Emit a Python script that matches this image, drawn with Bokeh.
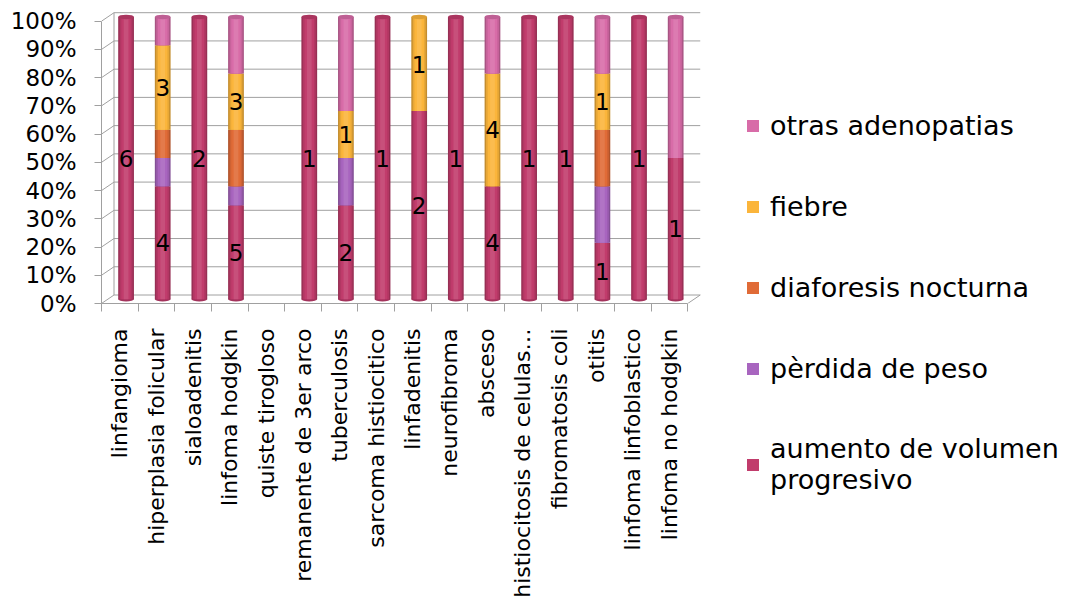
from math import pi

from bokeh.core.properties import value
from bokeh.embed import file_html
from bokeh.layouts import row
from bokeh.models import ColumnDataSource, FixedTicker, Legend, LegendItem, Range1d
from bokeh.plotting import figure
from bokeh.resources import INLINE

# ---- data -------------------------------------------------------------
categories = [
    "linfangioma", "hiperplasia folicular", "sialoadenitis", "linfoma hodgkin",
    "quiste tirogloso", "remanente de 3er arco", "tuberculosis",
    "sarcoma histiocitico", "linfadenitis", "neurofibroma", "absceso",
    "histiocitosis de celulas…", "fibromatosis coli", "otitis",
    "linfoma linfoblastico", "linfoma no hodgkin",
]
aumento    = [6, 4, 2, 5, 0, 1, 2, 1, 2, 1, 4, 1, 1, 1, 1, 1]
perdida    = [0, 1, 0, 1, 0, 0, 1, 0, 0, 0, 0, 0, 0, 1, 0, 0]
diaforesis = [0, 1, 0, 3, 0, 0, 0, 0, 0, 0, 0, 0, 0, 1, 0, 0]
fiebre     = [0, 3, 0, 3, 0, 0, 1, 0, 1, 0, 4, 0, 0, 1, 0, 0]
otras      = [0, 1, 0, 3, 0, 0, 2, 0, 0, 0, 2, 0, 0, 1, 0, 1]

series_names = [
    "aumento de volumen\nprogresivo", "pèrdida de peso",
    "diaforesis nocturna", "fiebre", "otras adenopatias",
]
series_values = [aumento, perdida, diaforesis, fiebre, otras]
series_colors = ["#C13C6C", "#A865BF", "#E06B37", "#FBB53B", "#D86CA8"]
labelled_series = [0, 3]  # counts are printed for these series

y_ticks = [0, 10, 20, 30, 40, 50, 60, 70, 80, 90, 100]

# ---- geometry of the pseudo-3D box -------------------------------------
PX_PER_PCT = 2.823          # vertical pixels per percent
PX_PER_CAT = 36.64          # horizontal pixels per category
DX = 12.5 / PX_PER_CAT      # depth offset, x (category units)
DY = 8.5 / PX_PER_PCT       # depth offset, y (percent units)
BAR_W = 0.43
FONT = "DejaVu Sans"
GRID = "#A0A0A0"


def mix(hex_color, other, t):
    a = [int(hex_color[i:i + 2], 16) for i in (1, 3, 5)]
    b = [int(other[i:i + 2], 16) for i in (1, 3, 5)]
    c = [round(x + (y - x) * t) for x, y in zip(a, b)]
    return "#%02X%02X%02X" % tuple(c)


n = len(categories)
totals = [sum(s[i] for s in series_values) for i in range(n)]

p = figure(
    width=720, height=610, output_backend="svg", toolbar_location=None,
    x_range=Range1d(-0.5, -0.5 + 601 / PX_PER_CAT),
    y_range=Range1d(0, 293 / PX_PER_PCT),
    min_border_left=101, min_border_right=18,
    min_border_top=10, min_border_bottom=307,
)
p.frame_align = False
p.outline_line_color = None
p.xgrid.visible = False
p.ygrid.visible = False
p.background_fill_color = "white"
p.border_fill_color = "white"

# ---- back wall, left wall and floor -------------------------------------
x_left, x_right = -0.5, n - 0.5
p.segment(x0=[x_left + DX] * len(y_ticks), x1=[x_right + DX] * len(y_ticks),
          y0=[t + DY for t in y_ticks], y1=[t + DY for t in y_ticks],
          line_color=GRID, line_width=1)
p.segment(x0=[x_left] * len(y_ticks), x1=[x_left + DX] * len(y_ticks),
          y0=y_ticks, y1=[t + DY for t in y_ticks],
          line_color=GRID, line_width=1)
p.segment(x0=[x_left + DX], x1=[x_left + DX], y0=[DY], y1=[100 + DY],
          line_color=GRID, line_width=1)
p.segment(x0=[x_right], x1=[x_right + DX], y0=[0], y1=[DY],
          line_color=GRID, line_width=1)

# ---- cylinders ----------------------------------------------------------
centers = [i + DX / 2 for i in range(n)]
off = DY / 2
cap_h = 4.5 / PX_PER_PCT

# bottom caps
bx, bc = [], []
for i in range(n):
    if totals[i] > 0:
        first = next(k for k in range(len(series_values)) if series_values[k][i] > 0)
        bx.append(centers[i])
        bc.append(mix(series_colors[first], "#000000", 0.15))
p.ellipse(x=bx, y=[off] * len(bx), width=BAR_W, height=cap_h,
          fill_color=bc, line_color=None)

cum = [0.0] * n
label_x, label_y, label_t = [], [], []
for k, (vals, col) in enumerate(zip(series_values, series_colors)):
    xs, bottoms, tops = [], [], []
    for i in range(n):
        if totals[i] == 0 or vals[i] == 0:
            continue
        pct = vals[i] / totals[i] * 100
        xs.append(centers[i])
        bottoms.append(cum[i] + off)
        tops.append(cum[i] + pct + off)
        if k in labelled_series:
            label_x.append(centers[i])
            label_y.append(cum[i] + pct / 2 + off)
            label_t.append(str(vals[i]))
        cum[i] += pct
    src = ColumnDataSource(dict(x=xs, bottom=bottoms, top=tops))
    # shaded bands give each stacked segment a cylindrical look
    p.vbar(x="x", bottom="bottom", top="top", width=BAR_W, source=src,
           fill_color=mix(col, "#000000", 0.22), line_color=None)
    p.vbar(x="x", bottom="bottom", top="top", width=BAR_W * 0.82,
           source=src, fill_color=mix(col, "#000000", 0.08), line_color=None)
    p.vbar(x="x", bottom="bottom", top="top", width=BAR_W * 0.6,
           source=src, fill_color=col, line_color=None)
    p.vbar(x="x", bottom="bottom", top="top", width=BAR_W * 0.3, source=src,
           fill_color=mix(col, "#FFFFFF", 0.1), line_color=None)

# top caps
tx, ty, tc = [], [], []
for i in range(n):
    if totals[i] > 0:
        last = max(k for k in range(len(series_values)) if series_values[k][i] > 0)
        tx.append(centers[i])
        ty.append(100 + off)
        tc.append(mix(series_colors[last], "#000000", 0.12))
p.ellipse(x=tx, y=ty, width=BAR_W, height=cap_h, fill_color=tc, line_color=None)

# value labels
p.text(x=label_x, y=label_y, text=label_t, text_align="center",
       text_baseline="middle", text_font=value(FONT), text_font_size="23px",
       text_color="black")

# ---- axes ---------------------------------------------------------------
yaxis = p.yaxis[0]
yaxis.ticker = FixedTicker(ticks=y_ticks, minor_ticks=[])
yaxis.major_label_overrides = {t: f"{t}%" for t in y_ticks}
yaxis.bounds = (0, 100)
yaxis.axis_line_color = GRID
yaxis.major_tick_line_color = GRID
yaxis.major_tick_out = 7
yaxis.major_tick_in = 0
yaxis.major_label_standoff = 18
yaxis.major_label_text_font = FONT
yaxis.major_label_text_font_size = "23px"
yaxis.major_label_text_color = "black"

xaxis = p.xaxis[0]
xaxis.ticker = FixedTicker(ticks=list(range(n)),
                           minor_ticks=[i - 0.5 for i in range(n + 1)])
xaxis.major_label_overrides = {i: c for i, c in enumerate(categories)}
xaxis.major_label_orientation = pi / 2
xaxis.bounds = (x_left, x_right)
xaxis.axis_line_color = GRID
xaxis.major_tick_line_color = None
xaxis.major_tick_out = 8
xaxis.major_tick_in = 0
xaxis.minor_tick_line_color = GRID
xaxis.minor_tick_out = 8
xaxis.minor_tick_in = 0
xaxis.major_label_standoff = 17
xaxis.major_label_text_font = FONT
xaxis.major_label_text_font_size = "22px"
xaxis.major_label_text_color = "black"

# ---- legend panel -------------------------------------------------------
lg = figure(
    width=346, height=610, output_backend="svg", toolbar_location=None,
    x_range=Range1d(0, 1), y_range=Range1d(0, 1),
    x_axis_location=None, y_axis_location=None,
    min_border=0, min_border_left=0, min_border_right=0,
    min_border_top=0, min_border_bottom=0,
)
lg.frame_align = False
lg.outline_line_color = None
lg.xgrid.visible = False
lg.ygrid.visible = False
lg.border_fill_color = "white"

# swatch renderers sit outside the visible range; only their legend glyphs show
swatches = [lg.vbar(x=[5], bottom=[5], top=[6], width=0.1, fill_color=c,
                    line_color=None)
            for c in series_colors]
items = [LegendItem(label=series_names[k], renderers=[swatches[k]])
         for k in reversed(range(len(series_names)))]
legend = Legend(items=items, location=(25, 115), padding=0, margin=0,
                spacing=49, glyph_width=15, glyph_height=15, label_height=32,
                label_standoff=10, label_text_font=FONT,
                label_text_font_size="27px", label_text_color="black",
                border_line_color=None, background_fill_alpha=0)
lg.add_layout(legend)

layout = row(p, lg)
open("out.html", "w").write(file_html(layout, INLINE))
